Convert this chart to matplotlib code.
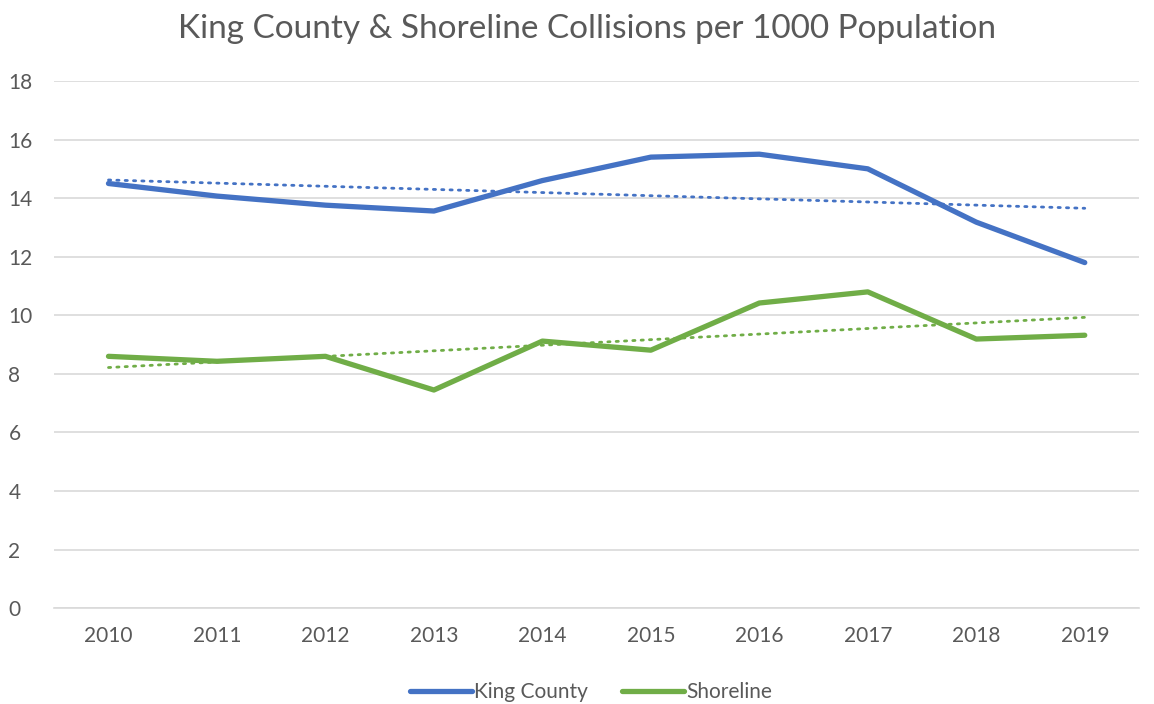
import numpy as np
import matplotlib.pyplot as plt

# values
years = ['2010', '2011', '2012', '2013', '2014', '2015', '2016', '2017', '2018', '2019']
king_county = [14.5, 14.07, 13.76, 13.56, 14.6, 15.4, 15.5, 15.0, 13.18, 11.8]
shoreline = [8.6, 8.43, 8.6, 7.45, 9.12, 8.81, 10.42, 10.8, 9.19, 9.32]
yticks = [0, 2, 4, 6, 8, 10, 12, 14, 16, 18]

blue = '#4472C4'
green = '#70AD47'
txt = '#595959'

plt.rcParams['font.family'] = ['Lato', 'DejaVu Sans']

fig = plt.figure(figsize=(11.54, 7.04), dpi=100)
ax = fig.add_axes([0.047, 0.136, 0.94, 0.749])

x = np.arange(len(years))

# linear trendlines, as Excel does
for vals, col in [(king_county, blue), (shoreline, green)]:
    k, b = np.polyfit(x, vals, 1)
    ax.plot(x, k * x + b, color=col, lw=2.0, linestyle=(0, (0.8, 2.2)),
            dash_capstyle='round', zorder=2)

ax.plot(x, king_county, color=blue, lw=3.8, solid_capstyle='round',
        solid_joinstyle='round', label='King County', zorder=3)
ax.plot(x, shoreline, color=green, lw=3.8, solid_capstyle='round',
        solid_joinstyle='round', label='Shoreline', zorder=3)

ax.set_xlim(-0.5, len(years) - 0.5)
ax.set_ylim(0, 18)
ax.set_yticks(yticks)
ax.set_xticks(x)
ax.set_xticklabels(years)
ax.tick_params(axis='both', length=0, labelsize=15, colors=txt)
ax.tick_params(axis='x', pad=13)
ax.tick_params(axis='y', pad=33)
for lab in ax.get_yticklabels():
    lab.set_horizontalalignment('left')
ax.grid(axis='y', color='#D9D9D9', lw=1.2)
ax.set_axisbelow(True)
for s in ['top', 'right', 'left']:
    ax.spines[s].set_visible(False)
ax.spines['bottom'].set_color('#D9D9D9')
ax.spines['bottom'].set_linewidth(1.2)

fig.suptitle('King County & Shoreline Collisions per 1000 Population',
             fontsize=24, color=txt, x=0.509, y=0.98)

leg = fig.legend(loc='lower center', bbox_to_anchor=(0.512, -0.024), ncol=2,
                 frameon=False, fontsize=15, handlelength=3.0,
                 handletextpad=0.1, columnspacing=1.6)
for t in leg.get_texts():
    t.set_color(txt)

fig.savefig('out.png', dpi=100)
